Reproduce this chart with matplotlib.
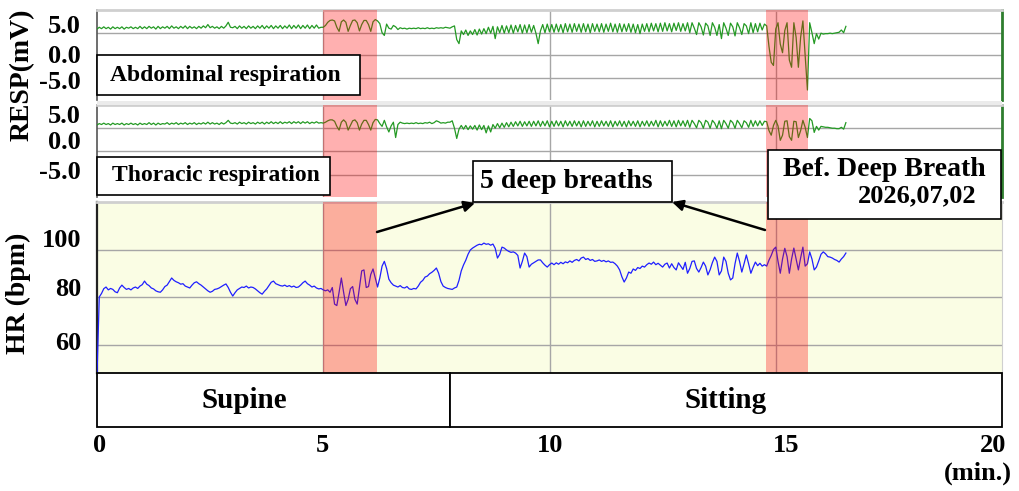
import numpy as np
import matplotlib
matplotlib.use("Agg")
import matplotlib.pyplot as plt
from matplotlib.patches import Rectangle, FancyArrowPatch

# ---------------- data (sampled every 0.05 min) ----------------
SAMPLE_STEP_MIN = 0.05

abd_resp = [
    5.8, 6.2, 5.9, 6.3, 5.9, 6.2, 5.8, 6.3, 5.9, 6.2,
    5.9, 6.3, 5.8, 6.2, 6.0, 6.3, 5.9, 6.2, 5.9, 6.4,
    5.9, 6.3, 5.9, 6.4, 6.0, 6.3, 5.8, 6.4, 5.9, 6.3,
    6.0, 6.4, 5.9, 6.5, 6.0, 6.3, 5.9, 6.4, 6.0, 6.5,
    5.9, 6.4, 6.0, 6.3, 5.9, 6.4, 6.0, 6.5, 6.1, 6.8,
    6.1, 6.4, 6.0, 6.3, 5.9, 6.4, 6.0, 6.5, 7.3, 6.2,
    6.1, 6.4, 5.9, 6.5, 6.0, 6.4, 5.9, 6.5, 6.0, 6.4,
    5.9, 6.5, 6.0, 6.6, 5.9, 6.5, 6.0, 6.6, 5.9, 6.5,
    6.0, 6.6, 5.9, 6.5, 6.0, 6.7, 5.9, 6.6, 6.0, 6.7,
    5.9, 6.6, 6.0, 6.7, 5.9, 6.6, 6.0, 6.7, 6.0, 6.2,
    6.2, 6.6, 7.3, 7.7, 7.8, 7.6, 6.2, 5.3, 7.4, 7.8,
    7.3, 5.3, 6.6, 7.7, 7.8, 7.2, 5.4, 6.8, 7.7, 7.7,
    6.8, 5.3, 7.4, 7.9, 7.6, 7.0, 5.0, 4.4, 6.9, 6.0,
    5.8, 6.6, 6.3, 5.7, 6.1, 5.9, 6.0, 5.8, 6.0, 5.9,
    6.0, 5.9, 6.1, 5.9, 6.0, 5.9, 6.1, 5.9, 6.0, 5.9,
    6.1, 6.0, 6.1, 6.0, 6.2, 6.1, 6.0, 6.3, 6.5, 3.5,
    2.6, 5.4, 4.6, 5.6, 4.4, 5.4, 4.6, 5.7, 4.5, 5.8,
    4.7, 5.9, 4.8, 6.2, 4.9, 6.4, 3.7, 6.3, 5.0, 6.6,
    4.9, 6.5, 5.0, 6.7, 4.9, 6.6, 5.2, 6.8, 4.9, 6.7,
    5.0, 6.8, 5.1, 6.6, 4.9, 2.6, 5.4, 6.8, 5.0, 6.9,
    5.2, 6.8, 5.1, 6.9, 5.2, 6.8, 5.0, 7.0, 5.2, 6.9,
    5.1, 7.0, 5.3, 6.9, 5.1, 7.0, 5.2, 6.9, 5.0, 7.0,
    5.3, 6.9, 5.2, 7.0, 5.1, 6.9, 5.3, 7.1, 5.2, 6.9,
    5.1, 7.0, 5.2, 6.9, 5.3, 7.0, 5.1, 6.9, 5.0, 6.8,
    4.8, 6.9, 5.3, 7.0, 5.2, 7.1, 5.4, 7.0, 5.2, 7.1,
    5.3, 7.2, 5.4, 7.0, 5.2, 7.1, 5.5, 7.2, 5.3, 7.0,
    5.4, 7.2, 5.0, 7.2, 6.0, 4.6, 7.2, 6.3, 4.5, 7.1,
    6.5, 4.4, 7.2, 6.2, 4.4, 6.8, 3.7, 7.2, 6.0, 4.4,
    7.1, 6.3, 4.3, 7.2, 6.1, 4.6, 7.0, 6.5, 4.8, 7.2,
    5.0, 7.0, 5.2, 7.1, 5.6, 6.9, 6.5, 2.0, -1.5, -2.2,
    5.8, 7.2, 2.5, 0.6, 5.5, 7.2, -1.0, -2.6, 7.2, 4.0,
    -2.6, 4.0, 7.6, 0.0, -7.6, 7.2, 5.0, 2.6, 4.8, 3.6,
    4.9, 4.7, 4.8, 4.8, 4.9, 4.8, 4.9, 5.0, 5.1, 5.6,
    5.0, 6.4,
]

thor_resp = [
    5.7, 6.0, 5.8, 6.1, 5.8, 6.0, 5.7, 6.1, 5.8, 6.0,
    5.8, 6.1, 5.7, 6.0, 5.8, 6.1, 5.8, 6.0, 5.7, 6.1,
    5.8, 6.0, 5.8, 6.2, 5.8, 6.1, 5.7, 6.1, 5.8, 6.0,
    5.9, 6.2, 5.8, 6.1, 5.9, 6.2, 5.8, 6.1, 5.9, 6.2,
    5.8, 6.1, 5.9, 6.2, 5.8, 6.1, 5.9, 6.2, 5.9, 6.3,
    5.9, 6.2, 5.9, 6.1, 5.8, 6.2, 5.9, 6.2, 6.7, 6.1,
    6.0, 6.2, 5.9, 6.3, 6.0, 6.2, 5.9, 6.3, 6.0, 6.2,
    5.9, 6.3, 6.0, 6.3, 5.9, 6.3, 6.0, 6.4, 6.0, 6.3,
    6.0, 6.4, 6.0, 6.3, 6.1, 6.4, 6.0, 6.4, 6.1, 6.4,
    6.0, 6.4, 6.1, 6.4, 6.0, 6.3, 6.1, 6.4, 6.1, 6.2,
    6.1, 6.3, 6.6, 6.8, 6.8, 6.5, 5.4, 4.6, 6.3, 6.8,
    6.3, 4.6, 5.6, 6.6, 6.8, 6.2, 4.6, 5.9, 6.7, 6.7,
    5.8, 4.6, 6.2, 6.9, 6.8, 6.0, 5.4, 6.7, 5.3, 4.2,
    5.5, 6.3, 3.0, 5.8, 6.3, 6.1, 6.0, 6.1, 6.0, 6.1,
    6.0, 6.2, 6.0, 6.1, 6.0, 6.2, 6.1, 6.3, 6.0, 6.2,
    6.6, 6.4, 6.1, 6.2, 6.1, 6.3, 6.3, 6.6, 5.0, 2.8,
    4.8, 5.6, 4.8, 5.6, 4.7, 5.5, 4.8, 5.6, 4.6, 5.7,
    4.7, 5.6, 4.0, 5.5, 4.2, 5.8, 5.0, 6.0, 5.1, 6.1,
    5.2, 6.2, 5.3, 6.3, 5.4, 6.4, 5.5, 6.5, 5.4, 6.4,
    5.5, 6.5, 5.4, 6.5, 5.5, 6.6, 5.4, 6.5, 5.5, 6.6,
    5.3, 6.5, 5.4, 6.6, 5.5, 6.5, 5.3, 6.6, 5.5, 6.5,
    5.4, 6.6, 5.5, 6.5, 5.3, 6.6, 5.4, 6.5, 5.5, 6.6,
    5.3, 6.5, 5.4, 6.6, 5.5, 6.5, 5.4, 6.6, 5.3, 6.5,
    5.5, 6.6, 5.4, 6.5, 5.3, 6.6, 5.5, 6.5, 5.4, 6.6,
    5.3, 6.5, 5.5, 6.6, 5.4, 6.5, 5.5, 6.7, 5.3, 6.6,
    5.4, 6.5, 5.5, 6.7, 5.4, 6.6, 5.3, 6.7, 5.5, 6.6,
    5.4, 6.7, 5.2, 6.7, 6.0, 5.1, 6.7, 6.2, 5.0, 6.7,
    6.3, 5.0, 6.7, 6.1, 5.0, 6.6, 4.9, 6.7, 6.0, 5.0,
    6.7, 6.2, 5.0, 6.7, 6.0, 5.1, 6.6, 6.2, 5.2, 6.7,
    5.4, 6.6, 5.5, 6.6, 5.6, 6.5, 6.4, 4.5, 3.5, 5.6,
    6.7, 5.5, 2.4, 3.5, 6.5, 6.6, 3.2, 2.4, 6.5, 6.4,
    3.0, 4.5, 6.7, 5.2, 3.0, 7.1, 6.6, 4.1, 5.4, 4.6,
    5.4, 5.3, 5.2, 5.2, 5.1, 5.0, 5.0, 4.9, 4.9, 5.2,
    4.8, 6.2,
]

heart_rate = [
    47.0, 80.0, 81.5, 83.5, 84.2, 83.0, 83.6, 83.2, 82.2, 81.8,
    83.8, 85.0, 84.0, 83.2, 83.6, 83.0, 83.8, 84.2, 83.6, 84.6,
    85.2, 86.7, 85.4, 84.8, 83.8, 83.4, 82.6, 82.2, 82.0, 83.0,
    84.4, 85.0, 86.5, 88.0, 87.0, 86.4, 86.0, 85.4, 85.6, 84.6,
    84.2, 83.8, 85.0, 86.0, 86.4, 85.6, 85.0, 84.2, 83.4, 82.6,
    82.0, 82.4, 83.2, 83.4, 83.8, 84.4, 85.0, 85.5, 84.0, 82.0,
    80.4, 81.8, 83.0, 83.6, 84.2, 84.0, 84.6, 83.8, 84.2, 84.0,
    83.4, 82.6, 81.8, 81.2, 82.4, 83.4, 84.8, 86.2, 86.7, 85.6,
    85.2, 84.8, 84.6, 85.0, 84.4, 84.8, 84.2, 84.6, 84.0, 84.2,
    85.0, 86.0, 86.7, 85.6, 85.0, 84.2, 84.6, 83.8, 83.4, 83.6,
    83.0, 82.6, 83.0, 82.0, 84.0, 77.0, 76.4, 82.0, 88.0, 82.0,
    76.4, 79.0, 83.5, 84.4, 79.0, 77.0, 84.0, 91.0, 91.4, 84.0,
    84.4, 89.5, 91.8, 88.0, 84.2, 88.0, 93.0, 95.0, 92.0, 87.5,
    86.0, 85.0, 84.6, 84.2, 84.8, 84.0, 83.8, 84.4, 83.4, 83.2,
    83.6, 83.4, 84.6, 86.2, 87.0, 88.4, 88.8, 89.8, 90.4, 91.2,
    92.2, 90.0, 86.5, 84.6, 84.0, 83.6, 83.4, 83.2, 83.8, 84.2,
    87.0, 91.0, 93.5, 95.5, 98.0, 99.8, 100.6, 101.2, 101.8, 102.2,
    102.0, 102.7, 102.2, 102.4, 101.8, 102.3, 100.5, 96.4, 98.0, 101.0,
    100.6, 99.8, 99.2, 98.8, 99.0, 98.5, 97.5, 92.2, 95.0, 98.5,
    97.0, 92.6, 93.8, 94.4, 95.0, 95.6, 95.6, 94.4, 93.4, 92.6,
    93.6, 94.3, 93.6, 94.4, 93.8, 94.6, 94.0, 94.8, 94.4, 95.2,
    94.6, 95.4, 95.8, 95.2, 96.4, 96.8, 95.8, 96.2, 95.4, 95.8,
    95.0, 95.2, 95.6, 95.0, 95.4, 94.8, 95.2, 94.6, 94.7, 94.0,
    93.0, 91.4, 88.5, 86.3, 88.0, 90.5, 90.0, 91.8, 91.2, 92.4,
    92.0, 93.0, 92.6, 93.6, 94.3, 93.8, 94.7, 93.6, 94.2, 93.4,
    92.6, 93.8, 94.3, 92.2, 94.0, 92.4, 91.4, 94.4, 93.0, 91.6,
    94.6, 90.0, 92.0, 95.0, 95.2, 92.0, 90.5, 92.4, 94.7, 93.0,
    89.3, 91.5, 94.5, 96.8, 95.0, 89.3, 91.0, 96.8, 95.0, 90.0,
    87.2, 88.0, 94.0, 98.5, 95.0, 90.5, 94.0, 97.7, 94.0, 90.0,
    92.5, 94.7, 93.2, 94.2, 93.0, 93.6, 93.0, 95.5, 97.5, 100.0,
    101.0, 95.0, 90.0, 96.0, 100.5, 97.0, 90.0, 96.0, 100.6, 96.0,
    91.4, 96.5, 101.0, 93.0, 94.0, 99.0, 96.0, 91.4, 92.6, 95.2,
    98.0, 99.0, 98.2, 97.0, 96.8, 96.4, 95.8, 95.4, 94.7, 96.0,
    97.0, 98.5,
]

deep_breath_start = [5.0, 14.78]
deep_breath_end = [6.19, 15.71]

posture_labels = ["Supine", "Sitting"]
posture_start = [0.0, 7.81]
posture_end = [7.81, 20.0]
posture_label_x = [3.25, 13.9]

x_ticks = [0, 5, 10, 15, 20]
x_ticklabels = ["0", "5", "10", "15", "20"]
resp_ticks = [5.0, 0.0, -5.0]
resp_ticklabels = ["5.0", "0.0", "-5.0"]
hr_ticks = [100, 80, 60]
hr_ticklabels = ["100", "80", "60"]

# ---------------- figure ----------------
W, H = 1020, 491
DPI = 100
plt.rcParams["font.family"] = ["Liberation Serif", "DejaVu Serif"]
plt.rcParams["font.weight"] = "bold"

fig = plt.figure(figsize=(W / DPI, H / DPI), dpi=DPI, facecolor="white")


def fx(px):
    return px / W


def fy(py):
    return 1 - py / H


def axes_px(left, top, right, bottom):
    return fig.add_axes([fx(left), fy(bottom), (right - left) / W, (bottom - top) / H])


t_abd = np.arange(len(abd_resp)) * SAMPLE_STEP_MIN
t_thor = np.arange(len(thor_resp)) * SAMPLE_STEP_MIN
t_hr = np.arange(len(heart_rate)) * SAMPLE_STEP_MIN

GREEN = "#249a24"
BLUE = "#1f1fff"
GRID = "#a6a6a6"
BAND = (1.0, 0.0, 0.0, 0.31)
TICK_FS = 19
BOX_FS = 20

ax_abd = axes_px(97, 10, 1002, 100)
ax_thor = axes_px(97, 105, 1002, 197)
ax_hr = axes_px(97, 202, 1002, 373)
ax_pos = axes_px(97, 373, 1002, 427)


def y_labels(ax, ticks, labels, nudges):
    """Tick labels drawn at their tick values, nudged as in the original layout."""
    for v, lab, dy in zip(ticks, labels, nudges):
        ax.annotate(lab, xy=(0, v), xycoords=("axes fraction", "data"),
                    xytext=(-16, dy), textcoords="offset pixels",
                    ha="right", va="center", fontsize=TICK_FS, fontweight="bold",
                    annotation_clip=False)


for ax, t, v in [(ax_abd, t_abd, abd_resp), (ax_thor, t_thor, thor_resp)]:
    ax.set_facecolor("white")
    ax.plot(t, v, color=GREEN, lw=0.9, zorder=3)
    ax.set_ylim(-9.8, 10)
    ax.set_yticks(resp_ticks)

ax_hr.set_facecolor("#fafde4")
ax_hr.plot(t_hr, heart_rate, color=BLUE, lw=0.9, zorder=3)
ax_hr.set_ylim(48, 120)
ax_hr.set_yticks(hr_ticks)

y_labels(ax_abd, resp_ticks, resp_ticklabels, [6, -1, -4])
y_labels(ax_thor, resp_ticks, resp_ticklabels, [12, 9, 2])
y_labels(ax_hr, hr_ticks, hr_ticklabels, [9, 7, 1])

for ax in (ax_abd, ax_thor, ax_hr):
    ax.set_xlim(0, 20)
    ax.set_xticks([5, 10, 15])
    ax.tick_params(axis="both", labelbottom=False, labelleft=False, length=0)
    ax.grid(True, color=GRID, lw=1.0, zorder=1)
    ax.set_axisbelow(True)
    for s0, s1 in zip(deep_breath_start, deep_breath_end):
        ax.axvspan(s0, s1, color=BAND, lw=0, zorder=4)
    ax.spines["top"].set_color("#cfcfcf")
    ax.spines["top"].set_linewidth(2)
    ax.spines["bottom"].set_visible(False)
    ax.spines["left"].set_color("#555555")
    ax.spines["left"].set_linewidth(1.2)
    ax.spines["right"].set_color("#d0d0d0")

for ax in (ax_abd, ax_thor):
    ax.spines["right"].set_color("#2e7d2e")
    ax.spines["right"].set_linewidth(2)
ax_hr.spines["left"].set_color("#222222")
ax_hr.spines["left"].set_linewidth(1.6)

# posture bar
ax_pos.set_xlim(0, 20)
ax_pos.set_ylim(0, 1)
ax_pos.set_yticks([])
ax_pos.set_xticks(x_ticks)
ax_pos.tick_params(axis="x", length=0, labelbottom=False)
for sp in ax_pos.spines.values():
    sp.set_visible(False)
for lab, s0, s1, lx in zip(posture_labels, posture_start, posture_end, posture_label_x):
    ax_pos.add_patch(Rectangle((s0, 0), s1 - s0, 1, facecolor="white",
                               edgecolor="black", lw=1.3, clip_on=False))
    ax_pos.text(lx, 0.5, lab, ha="center", va="center", fontsize=21, fontweight="bold")

# x tick labels (nudged horizontally like the original)
for v, lab, dx in zip(x_ticks, x_ticklabels, [3, -1, 1, 10, -9]):
    ax_pos.annotate(lab, xy=(v, 0), xycoords=("data", "axes fraction"),
                    xytext=(dx, -18), textcoords="offset pixels",
                    ha="center", va="center", fontsize=TICK_FS, fontweight="bold",
                    annotation_clip=False)

# gray separator between the two respiration panels
fig.add_artist(Rectangle((fx(97), fy(105)), 905 / W, 4 / H, transform=fig.transFigure,
                         facecolor="#ebebeb", edgecolor="none", zorder=0.5))

# axis titles
fig.text(fx(22), fy(75), "RESP(mV)", rotation=90, ha="center", va="center",
         fontsize=20, fontweight="bold")
fig.text(fx(18), fy(293), "HR (bpm)", rotation=90, ha="center", va="center",
         fontsize=20, fontweight="bold")
fig.text(fx(1012), fy(473), "(min.)", ha="right", va="center", fontsize=19,
         fontweight="bold")


def text_box(x0, y0, x1, y1):
    fig.add_artist(Rectangle((fx(x0), fy(y1)), (x1 - x0) / W, (y1 - y0) / H,
                             transform=fig.transFigure, facecolor="white",
                             edgecolor="black", lw=1.2, zorder=5))


text_box(97, 55, 360, 95)
fig.text(fx(110), fy(75), "Abdominal respiration", ha="left", va="center",
         fontsize=17, fontweight="bold", zorder=6)
text_box(97, 157, 330, 195)
fig.text(fx(112), fy(176), "Thoracic respiration", ha="left", va="center",
         fontsize=17, fontweight="bold", zorder=6)
text_box(473, 161, 672, 202)
fig.text(fx(480), fy(181), "5 deep breaths", ha="left", va="center",
         fontsize=BOX_FS, fontweight="bold", zorder=6)
text_box(768, 150, 1001, 219)
fig.text(fx(783), fy(169), "Bef. Deep Breath", ha="left", va="center",
         fontsize=BOX_FS, fontweight="bold", zorder=6)
fig.text(fx(977), fy(196), "2026,07,02", ha="right", va="center",
         fontsize=19, fontweight="bold", zorder=6)

for (xa, ya), (xb, yb) in [((377, 232), (475, 203)), ((765, 230), (672, 202))]:
    fig.add_artist(FancyArrowPatch((fx(xa), fy(ya)), (fx(xb), fy(yb)),
                                   transform=fig.transFigure, arrowstyle="-|>",
                                   mutation_scale=16, lw=1.8, color="black",
                                   shrinkA=0, shrinkB=0, zorder=6))

fig.savefig("out.png", dpi=DPI, facecolor="white")
